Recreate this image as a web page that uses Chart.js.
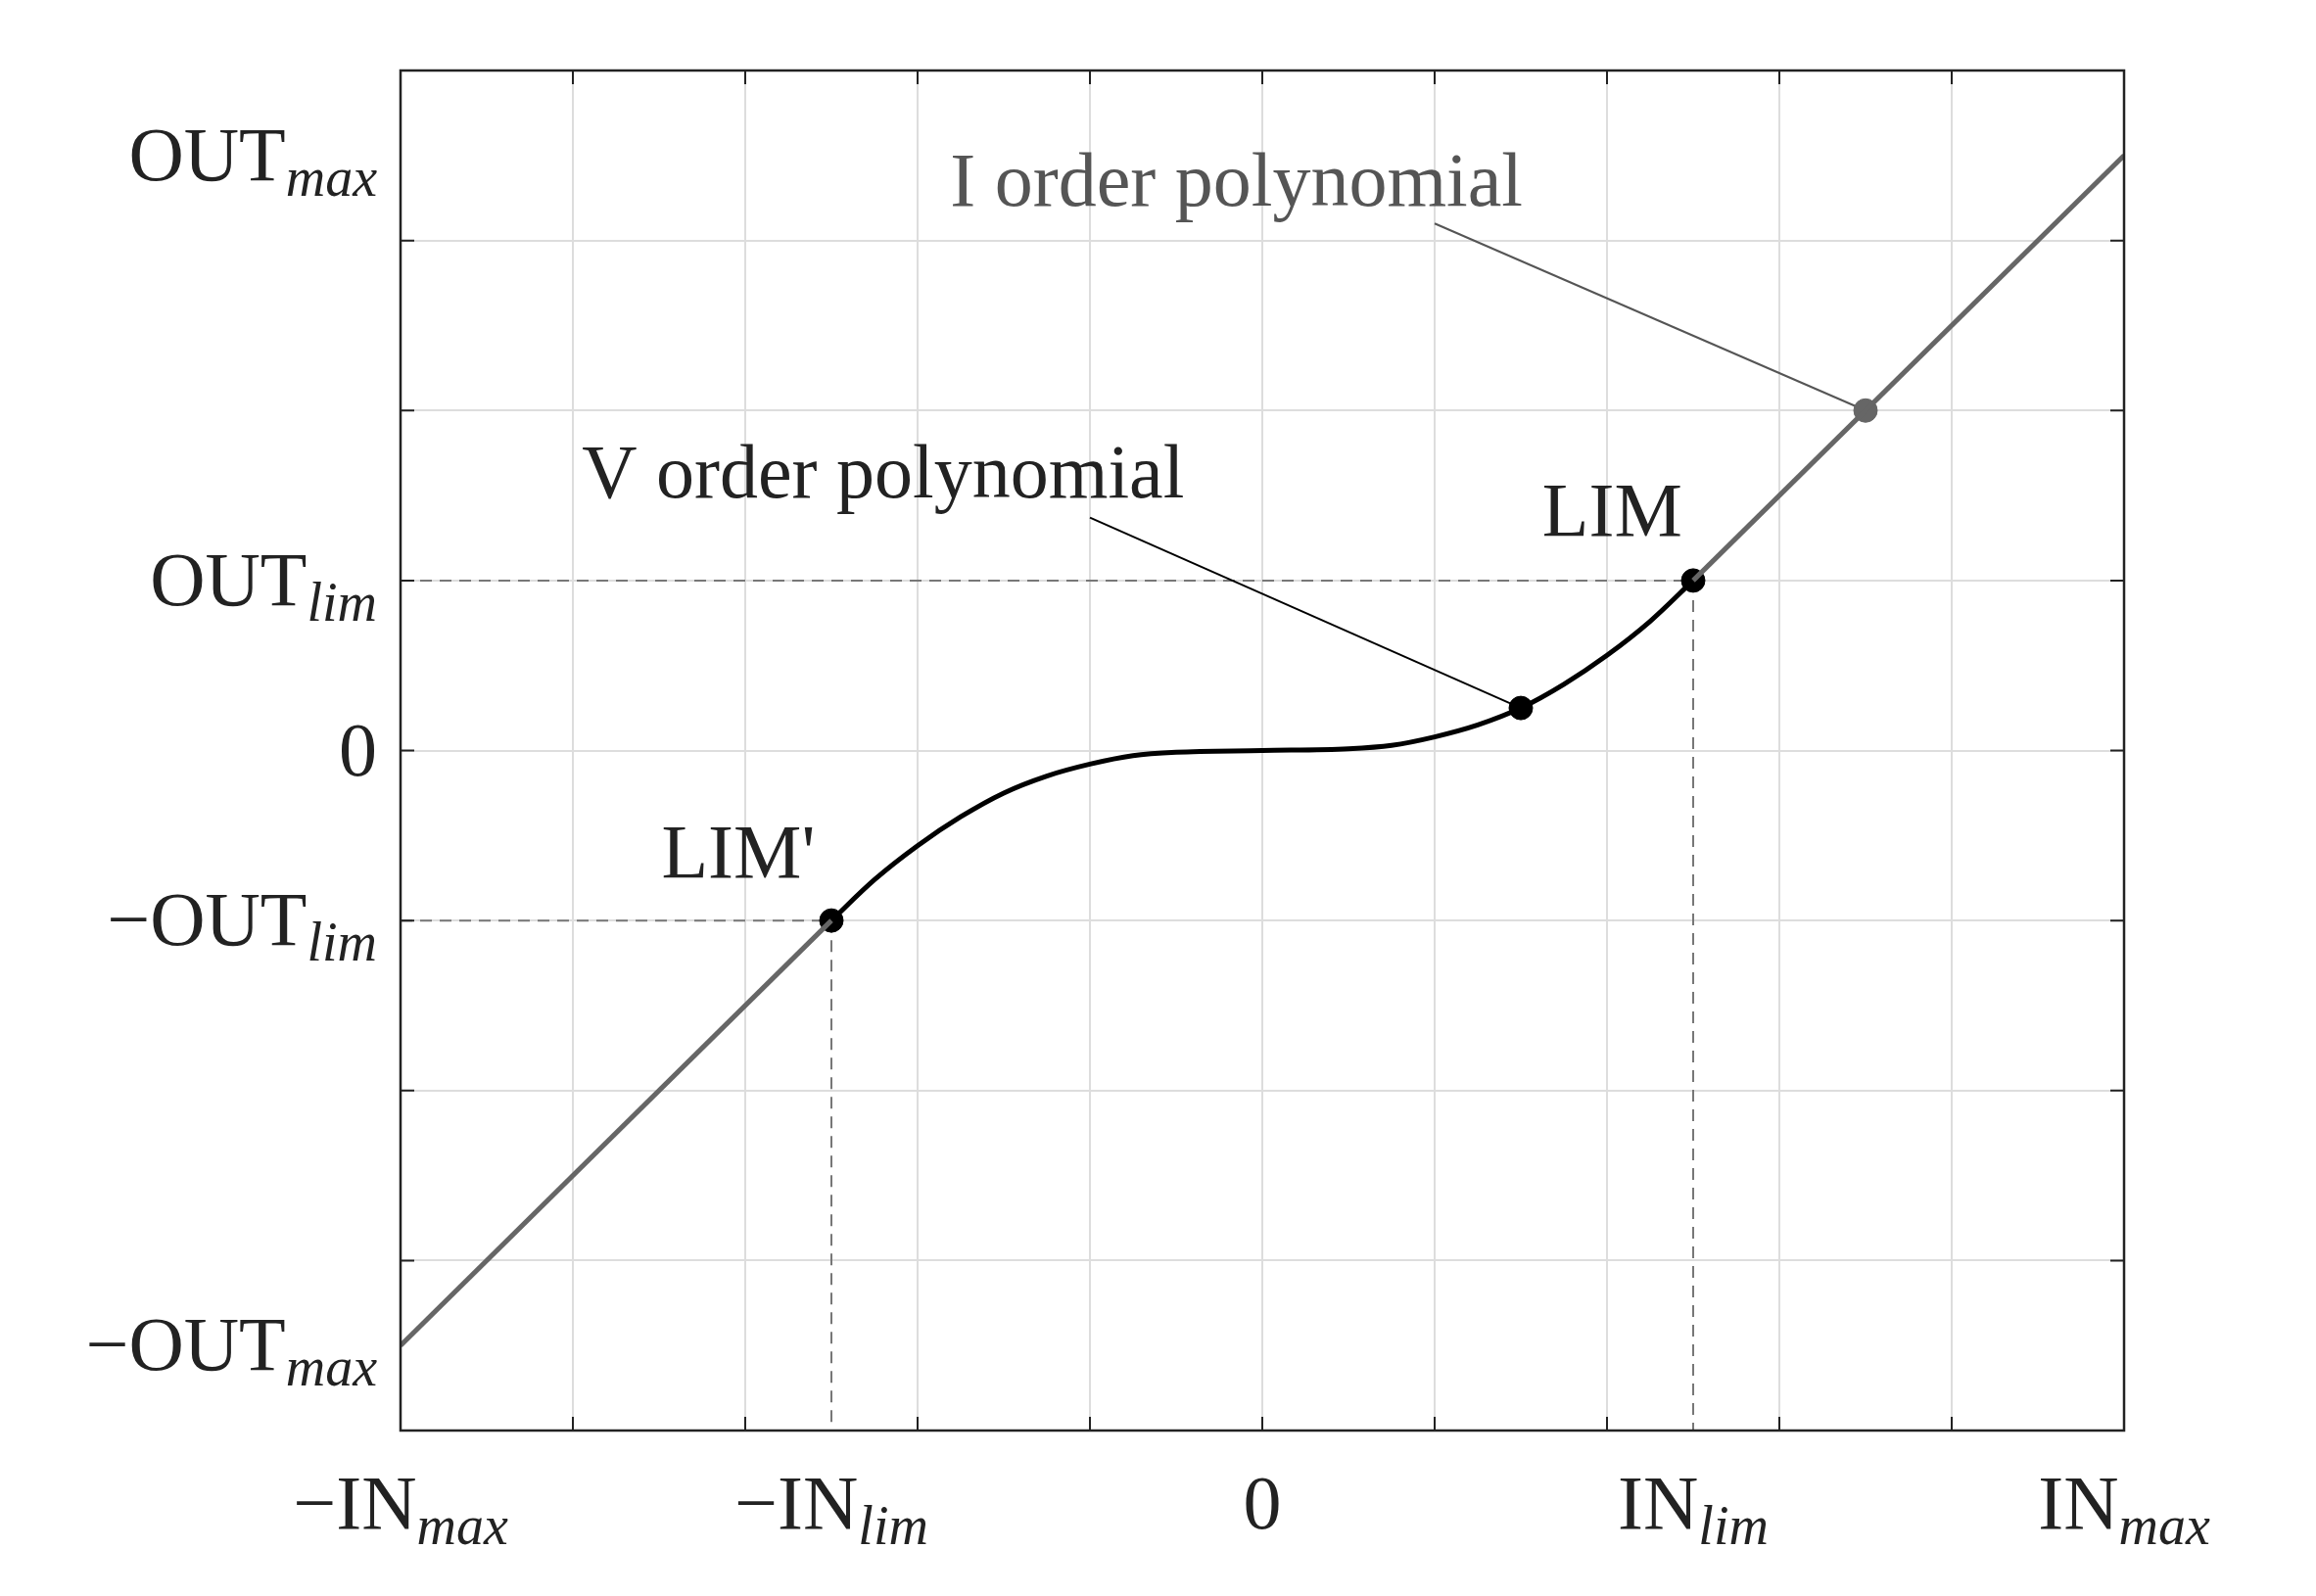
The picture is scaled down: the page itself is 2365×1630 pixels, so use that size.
<!DOCTYPE html>
<html><head><meta charset="utf-8">
<script src="https://cdn.jsdelivr.net/npm/chart.js@4"></script>
<style>body{margin:0;background:#fff}</style>
</head><body>
<canvas id="c" width="2365" height="1630"></canvas>
<script>
// linear (I order) parts
let linLeft = [{x: -5, y: -3.5}, {x: -2.5, y: -1}];
let linRight = [{x: 2.5, y: 1}, {x: 5, y: 3.5}];
// V order polynomial
let polyX = [-2.5, -2.25, -2, -1.75, -1.5, -1.25, -1, -0.75, -0.5, 0, 0.5, 0.75, 1, 1.25, 1.5, 1.75, 2, 2.25, 2.5];
let polyY = [-1, -0.76, -0.56, -0.39, -0.25, -0.15, -0.08, -0.03, -0.01, 0, 0.01, 0.03, 0.08, 0.15, 0.25, 0.39, 0.56, 0.76, 1];
let blackDots = [{x: -2.5, y: -1}, {x: 1.5, y: 0.25}, {x: 2.5, y: 1}];
let grayDots = [{x: 3.5, y: 2}];
let xLabels = [[-5, "−IN", "max"], [-2.5, "−IN", "lim"], [0, "0", ""], [2.5, "IN", "lim"], [5, "IN", "max"]];
let yLabels = [[3.5, "OUT", "max"], [1, "OUT", "lim"], [0, "0", ""], [-1, "−OUT", "lim"], [-3.5, "−OUT", "max"]];

const FONT = "'Liberation Serif', serif";
function label(ctx, x, y, main, sub, align) {
  ctx.font = "78px " + FONT;
  let w1 = ctx.measureText(main).width;
  ctx.font = "italic 56px " + FONT;
  let w2 = sub ? ctx.measureText(sub).width : 0;
  let x0 = align === "right" ? x - w1 - w2 : x - (w1 + w2) / 2;
  ctx.textAlign = "left";
  ctx.textBaseline = "alphabetic";
  ctx.fillStyle = "#222";
  ctx.font = "78px " + FONT;
  ctx.fillText(main, x0, y);
  if (sub) {
    ctx.font = "italic 56px " + FONT;
    ctx.fillText(sub, x0 + w1, y + 16);
  }
}

const deco = {
  id: "deco",
  beforeDatasetsDraw(chart) {
    let {ctx, scales: {x, y}} = chart;
    ctx.save();
    ctx.strokeStyle = "#777";
    ctx.lineWidth = 2;
    ctx.setLineDash([12, 8]);
    let seg = (a, b, c, d) => { ctx.beginPath(); ctx.moveTo(x.getPixelForValue(a), y.getPixelForValue(b)); ctx.lineTo(x.getPixelForValue(c), y.getPixelForValue(d)); ctx.stroke(); };
    seg(-5, 1, 2.5, 1);
    seg(-5, -1, -2.5, -1);
    seg(2.5, 1, 2.5, -4);
    seg(-2.5, -1, -2.5, -4);
    ctx.setLineDash([]);
    ctx.strokeStyle = "#555";
    seg(1, 3.1, 3.5, 2);
    ctx.strokeStyle = "#000";
    seg(-1, 1.37, 1.5, 0.25);
    ctx.restore();
  },
  afterDraw(chart) {
    let {ctx, chartArea: a, scales: {x, y}} = chart;
    ctx.save();
    ctx.strokeStyle = "#222";
    ctx.lineWidth = 2.5;
    ctx.strokeRect(a.left, a.top, a.right - a.left, a.bottom - a.top);
    ctx.lineWidth = 2;
    for (let v = -4; v <= 5; v++) {
      let px = x.getPixelForValue(v);
      ctx.beginPath(); ctx.moveTo(px, a.bottom); ctx.lineTo(px, a.bottom - 14); ctx.moveTo(px, a.top); ctx.lineTo(px, a.top + 14); ctx.stroke();
    }
    for (let v = -3; v <= 3; v++) {
      let py = y.getPixelForValue(v);
      ctx.beginPath(); ctx.moveTo(a.left, py); ctx.lineTo(a.left + 14, py); ctx.moveTo(a.right, py); ctx.lineTo(a.right - 14, py); ctx.stroke();
    }
    xLabels.forEach(([v, m, s]) => label(ctx, x.getPixelForValue(v), a.bottom + 100, m, s, "center"));
    yLabels.forEach(([v, m, s]) => label(ctx, 385, y.getPixelForValue(v) + 25, m, s, "right"));
    ctx.font = "78px " + FONT;
    ctx.textAlign = "center";
    ctx.fillStyle = "#555";
    ctx.fillText("I order polynomial", x.getPixelForValue(-0.15), y.getPixelForValue(3.35) + 25);
    ctx.fillStyle = "#222";
    ctx.fillText("V order polynomial", x.getPixelForValue(-2.2), y.getPixelForValue(1.63) + 25);
    ctx.fillText("LIM", x.getPixelForValue(2.03), y.getPixelForValue(1.41) + 25);
    ctx.fillText("LIM'", x.getPixelForValue(-3.04), y.getPixelForValue(-0.6) + 25);
    ctx.restore();
  }
};

new Chart(document.getElementById("c"), {
  type: "scatter",
  data: {
    datasets: [
      {data: linLeft, showLine: true, borderColor: "#666", borderWidth: 5, pointRadius: 0},
      {data: linRight, showLine: true, borderColor: "#666", borderWidth: 5, pointRadius: 0},
      {data: polyX.map((v, i) => ({x: v, y: polyY[i]})), showLine: true, borderColor: "#000", borderWidth: 5, pointRadius: 0, tension: 0.4, cubicInterpolationMode: "monotone"},
      {data: blackDots, backgroundColor: "#000", borderColor: "#000", pointRadius: 12},
      {data: grayDots, backgroundColor: "#666", borderColor: "#666", pointRadius: 12}
    ]
  },
  options: {
    responsive: false,
    devicePixelRatio: 1,
    animation: false,
    layout: {padding: {left: 409, right: 196, top: 72, bottom: 169}},
    plugins: {legend: {display: false}, tooltip: {enabled: false}},
    scales: {
      x: {type: "linear", min: -5, max: 5, ticks: {display: false, stepSize: 1}, grid: {color: "#ddd", lineWidth: 2, drawTicks: false}, border: {display: false}},
      y: {type: "linear", min: -4, max: 4, ticks: {display: false, stepSize: 1}, grid: {color: "#ddd", lineWidth: 2, drawTicks: false}, border: {display: false}}
    }
  },
  plugins: [deco]
});
</script>
</body></html>
